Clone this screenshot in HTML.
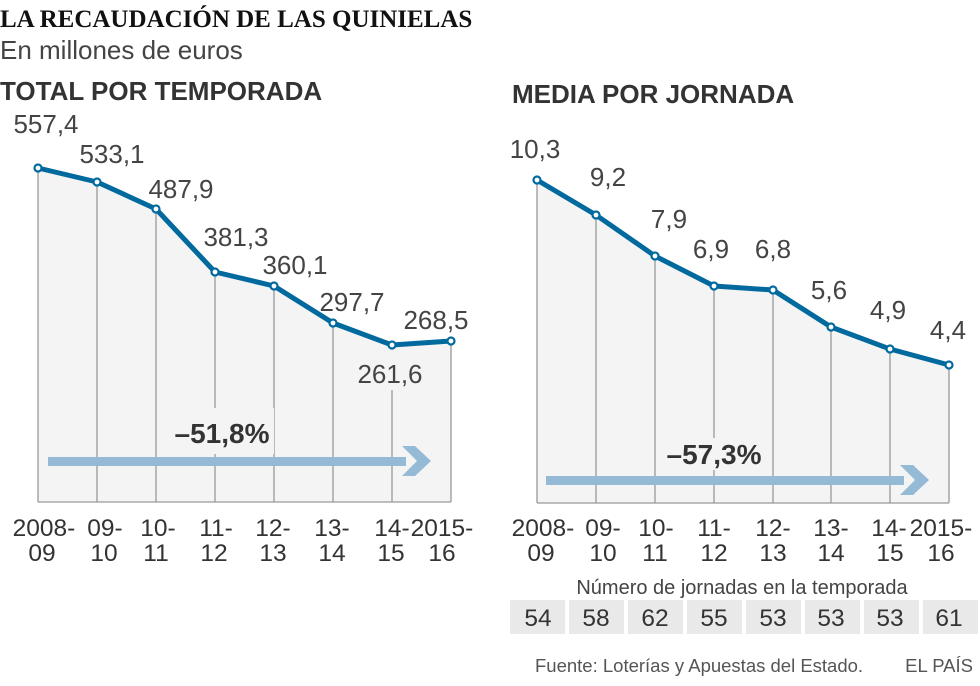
<!DOCTYPE html>
<html><head><meta charset="utf-8"><style>
body{margin:0;background:#fff;}
svg{display:block;font-family:"Liberation Sans",sans-serif;}
.v{font-size:26px;fill:#444;}
.t{font-size:24.5px;fill:#333;text-anchor:middle;}
</style></head><body>
<svg width="980" height="686" viewBox="0 0 980 686">
<text x="0" y="27" font-family="Liberation Serif" font-weight="bold" font-size="25" fill="#111">LA RECAUDACIÓN DE LAS QUINIELAS</text>
<text x="0" y="59" font-size="26" fill="#444">En millones de euros</text>
<text x="0" y="100" font-size="26" font-weight="bold" fill="#333">TOTAL POR TEMPORADA</text>
<text x="512" y="103" font-size="26" font-weight="bold" fill="#333">MEDIA POR JORNADA</text>

<!-- left chart -->
<polygon points="38,168 97,182 156,209 215,272 274,286 333,323 392,345 451,341 451,502 38,502" fill="#f4f4f4"/>
<g stroke="#999" stroke-width="1.3">
<line x1="38" y1="168" x2="38" y2="502"/><line x1="97" y1="182" x2="97" y2="502"/><line x1="156" y1="209" x2="156" y2="502"/><line x1="215" y1="272" x2="215" y2="502"/><line x1="274" y1="286" x2="274" y2="502"/><line x1="333" y1="323" x2="333" y2="502"/><line x1="392" y1="390" x2="392" y2="502"/><line x1="451" y1="341" x2="451" y2="502"/>
<line x1="38" y1="502" x2="451" y2="502"/>
</g>
<rect x="170" y="408" width="104" height="46" fill="#f4f4f4"/>
<text x="222" y="443" font-size="28" font-weight="bold" fill="#333" text-anchor="middle">–51,8%</text>
<rect x="48" y="457" width="358" height="9" fill="#94bad6"/>
<polygon points="402,446 415,446 431,461 415,476 402,476 417,461" fill="#94bad6"/>
<polyline points="38,168 97,182 156,209 215,272 274,286 333,323 392,345 451,341" fill="none" stroke="#00699e" stroke-width="5" stroke-linejoin="round"/>
<g fill="#fff" stroke="#00699e" stroke-width="2.2">
<circle cx="38" cy="168" r="3.5"/><circle cx="97" cy="182" r="3.5"/><circle cx="156" cy="209" r="3.5"/><circle cx="215" cy="272" r="3.5"/><circle cx="274" cy="286" r="3.5"/><circle cx="333" cy="323" r="3.5"/><circle cx="392" cy="345" r="3.5"/><circle cx="451" cy="341" r="3.5"/>
</g>
<g class="v" text-anchor="middle">
<text x="46" y="133">557,4</text><text x="112" y="163">533,1</text><text x="181" y="198">487,9</text><text x="236" y="246">381,3</text><text x="295" y="274">360,1</text><text x="352" y="311">297,7</text><text x="390" y="383">261,6</text><text x="436" y="329">268,5</text>
</g>
<g class="t">
<text x="44" y="536">2008-</text><text x="42" y="561">09</text>
<text x="105" y="536">09-</text><text x="104" y="561">10</text>
<text x="158" y="536">10-</text><text x="156" y="561">11</text>
<text x="216" y="536">11-</text><text x="214" y="561">12</text>
<text x="273" y="536">12-</text><text x="273" y="561">13</text>
<text x="332" y="536">13-</text><text x="332" y="561">14</text>
<text x="392" y="536">14-</text><text x="391" y="561">15</text>
<text x="442" y="536">2015-</text><text x="442" y="561">16</text>
</g>

<!-- right chart -->
<polygon points="537,180 596,215 655,256 714,286 773,290 831,327 890,349 949,365 949,503 537,503" fill="#f4f4f4"/>
<g stroke="#999" stroke-width="1.3">
<line x1="537" y1="180" x2="537" y2="503"/><line x1="596" y1="215" x2="596" y2="503"/><line x1="655" y1="256" x2="655" y2="503"/><line x1="714" y1="286" x2="714" y2="503"/><line x1="773" y1="290" x2="773" y2="503"/><line x1="831" y1="327" x2="831" y2="503"/><line x1="890" y1="349" x2="890" y2="503"/><line x1="949" y1="365" x2="949" y2="503"/>
<line x1="537" y1="503" x2="949" y2="503"/>
</g>
<rect x="662" y="438" width="104" height="32" fill="#f4f4f4"/>
<text x="714" y="464" font-size="28" font-weight="bold" fill="#333" text-anchor="middle">–57,3%</text>
<rect x="546" y="476" width="358" height="9" fill="#94bad6"/>
<polygon points="900,465 913,465 929,480 913,495 900,495 915,480" fill="#94bad6"/>
<polyline points="537,180 596,215 655,256 714,286 773,290 831,327 890,349 949,365" fill="none" stroke="#00699e" stroke-width="5" stroke-linejoin="round"/>
<g fill="#fff" stroke="#00699e" stroke-width="2.2">
<circle cx="537" cy="180" r="3.5"/><circle cx="596" cy="215" r="3.5"/><circle cx="655" cy="256" r="3.5"/><circle cx="714" cy="286" r="3.5"/><circle cx="773" cy="290" r="3.5"/><circle cx="831" cy="327" r="3.5"/><circle cx="890" cy="349" r="3.5"/><circle cx="949" cy="365" r="3.5"/>
</g>
<g class="v" text-anchor="middle">
<text x="535" y="158">10,3</text><text x="608" y="186">9,2</text><text x="669" y="228">7,9</text><text x="711" y="258">6,9</text><text x="773" y="258">6,8</text><text x="829" y="299">5,6</text><text x="888" y="319">4,9</text><text x="948" y="339">4,4</text>
</g>
<g class="t">
<text x="543" y="536">2008-</text><text x="541" y="561">09</text>
<text x="603" y="536">09-</text><text x="603" y="561">10</text>
<text x="656" y="536">10-</text><text x="655" y="561">11</text>
<text x="714" y="536">11-</text><text x="714" y="561">12</text>
<text x="773" y="536">12-</text><text x="773" y="561">13</text>
<text x="831" y="536">13-</text><text x="831" y="561">14</text>
<text x="889" y="536">14-</text><text x="890" y="561">15</text>
<text x="941" y="536">2015-</text><text x="941" y="561">16</text>
</g>
<text x="742" y="594" font-size="20" fill="#444" text-anchor="middle">Número de jornadas en la temporada</text>
<g fill="#e9e9e9">
<rect x="510" y="600" width="55" height="34"/><rect x="569" y="600" width="55" height="34"/><rect x="628" y="600" width="55" height="34"/><rect x="687" y="600" width="55" height="34"/><rect x="746" y="600" width="55" height="34"/><rect x="805" y="600" width="55" height="34"/><rect x="864" y="600" width="55" height="34"/><rect x="923" y="600" width="55" height="34"/>
</g>
<g class="t" font-size="23">
<text x="538" y="626">54</text><text x="596" y="626">58</text><text x="655" y="626">62</text><text x="714" y="626">55</text><text x="773" y="626">53</text><text x="831" y="626">53</text><text x="890" y="626">53</text><text x="949" y="626">61</text>
</g>
<text x="535" y="672" font-size="18.5" fill="#555">Fuente: Loterías y Apuestas del Estado.</text>
<text x="973" y="672" font-size="18.5" fill="#555" text-anchor="end">EL PAÍS</text>
</svg>
</body></html>
